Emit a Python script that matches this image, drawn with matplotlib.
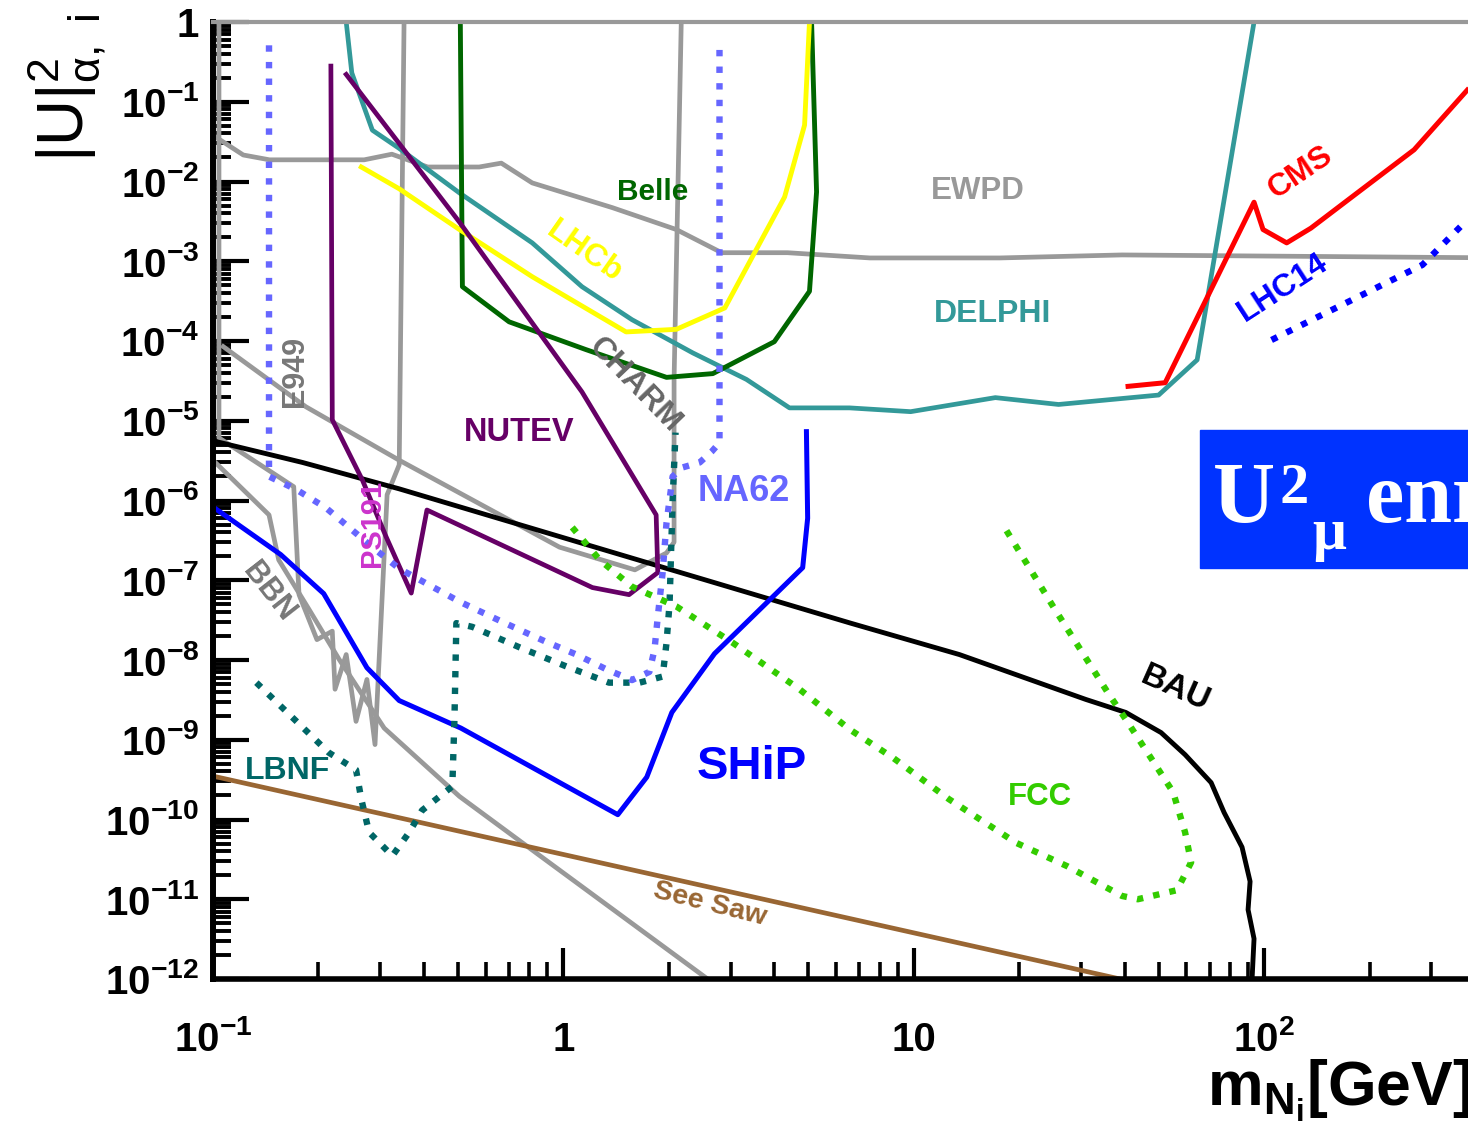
import matplotlib
matplotlib.use('Agg')
import matplotlib.pyplot as plt
from matplotlib.patches import Rectangle
from matplotlib.ticker import LogLocator, NullFormatter

plt.rcParams['font.family'] = ['Liberation Sans', 'DejaVu Sans']
plt.rcParams['font.weight'] = 'bold'
plt.rcParams['mathtext.fontset'] = 'custom'
plt.rcParams['mathtext.rm'] = 'Liberation Sans:bold'
plt.rcParams['mathtext.it'] = 'Liberation Sans:bold'
plt.rcParams['mathtext.bf'] = 'Liberation Sans:bold'
plt.rcParams['mathtext.sf'] = 'Liberation Sans:normal'
plt.rcParams['mathtext.default'] = 'rm'

# --- data ---
ewpd_x = [0.1, 0.122, 0.145, 0.27, 0.324, 0.41, 0.575, 0.665, 0.815, 1.38, 2.1, 2.83, 4.36, 7.5, 17.6, 39.3, 500]
ewpd_y = [0.038, 0.0215, 0.0187, 0.0187, 0.022, 0.0152, 0.0152, 0.017, 9.6e-3, 4.7e-3, 2.5e-3, 1.28e-3, 1.28e-3, 1.1e-3, 1.1e-3, 1.2e-3, 1.1e-3]

charm_x = [0.107, 0.184, 0.34, 0.975, 1.6, 1.97, 2.07, 2.07, 2.17]
charm_y = [8.5e-5, 1.5e-5, 3.2e-6, 2.6e-7, 1.35e-7, 2.2e-7, 3.0e-7, 3.3e-5, 1.0]

bbn_up_x = [0.104, 0.104, 0.17, 0.176, 0.198, 0.219, 0.223, 0.24, 0.256, 0.275, 0.29, 0.314, 0.34, 0.351]
bbn_up_y = [1.0, 6.1e-6, 1.49e-6, 6.6e-8, 1.8e-8, 2.3e-8, 4.3e-9, 1.17e-8, 1.7e-9, 5.7e-9, 8.7e-10, 1.18e-6, 2.8e-6, 1.0]

bbn_low_x = [0.1, 0.1445, 0.154, 0.188, 0.229, 0.308, 0.505, 0.764, 2.58]
bbn_low_y = [3.2e-6, 6.6e-7, 1.8e-7, 4.3e-8, 1.02e-8, 1.4e-9, 1.95e-10, 5.1e-11, 1e-12]

seesaw_x = [0.1, 38.8]
seesaw_y = [3.5e-10, 1e-12]

bau_x = [0.1, 0.18, 0.34, 6.6, 13.5, 31, 40.3, 50.8, 59.5, 70.6, 76.9, 86.5, 91.2, 90, 93.6, 92.4]
bau_y = [5.6e-6, 3.0e-6, 1.4e-6, 2.9e-8, 1.17e-8, 3.2e-9, 2.2e-9, 1.23e-9, 6.5e-10, 2.9e-10, 1.22e-10,
         4.5e-11, 1.67e-11, 7.4e-12, 3.2e-12, 1e-12]

ship_x = [0.1, 0.156, 0.207, 0.275, 0.34, 0.51, 1.43, 1.73, 2.04, 2.70, 4.82, 4.98, 4.94]
ship_y = [8.3e-7, 2.1e-7, 6.8e-8, 8.0e-9, 3.1e-9, 1.4e-9, 1.15e-10, 3.4e-10, 2.2e-9, 1.2e-8, 1.44e-7, 6.0e-7, 7.3e-6]

lbnf_x = [0.133, 0.214, 0.256, 0.265, 0.279, 0.325, 0.363, 0.395, 0.482, 0.489, 0.495, 0.55, 0.75,
          1.02, 1.35, 1.65, 1.92, 1.97, 2.01, 2.05, 2.09]
lbnf_y = [5.2e-9, 6.9e-10, 4.2e-10, 1.8e-10, 6.9e-11, 3.5e-11, 6.9e-11, 1.3e-10, 2.6e-10, 1.95e-9, 2.9e-8,
          2.6e-8, 1.44e-8, 8.3e-9, 5.2e-9, 5.2e-9, 6.2e-9, 1.65e-8, 5.2e-8, 1.0e-6, 7.1e-6]

na62_x = [0.1445, 0.1445, 0.173, 0.21, 0.285, 0.34, 0.505, 0.67, 0.89, 1.09, 1.33, 1.57, 1.76, 1.82,
          1.86, 1.92, 1.97, 2.05, 2.19, 2.45, 2.65, 2.79, 2.79]
na62_y = [0.51, 2.0e-6, 1.37e-6, 8.1e-7, 2.6e-7, 1.4e-7, 5.4e-8, 3.0e-8, 1.7e-8, 1.17e-8, 7.6e-9, 5.6e-9,
          7.1e-9, 1.35e-8, 3.5e-8, 1.25e-7, 5.3e-7, 2.0e-6, 2.6e-6, 3.0e-6, 4.1e-6, 5.3e-6, 0.51]

nutev_x = [0.217, 0.219, 0.267, 0.312, 0.368, 0.408, 1.21, 1.54, 1.86, 1.84, 1.13, 0.84, 0.505, 0.24]
nutev_y = [0.28, 1.03e-5, 1.8e-6, 3.5e-7, 6.9e-8, 7.6e-7, 8.1e-8, 6.6e-8, 1.25e-7, 6.6e-7, 2.3e-5, 1.4e-4, 3.1e-3, 0.22]

delphi_x = [0.24, 0.249, 0.285, 0.34, 0.505, 0.815, 1.13, 1.57, 2.34, 3.33, 4.42, 6.56, 9.8, 17.1, 25.9, 50, 64.4, 93.6]
delphi_y = [1.0, 0.23, 0.044, 0.026, 7.2e-3, 1.7e-3, 4.8e-4, 1.85e-4, 7.1e-5, 3.3e-5, 1.45e-5, 1.45e-5,
            1.3e-5, 1.95e-5, 1.6e-5, 2.1e-5, 5.8e-5, 1.0]

belle_x = [0.508, 0.515, 0.70, 1.16, 1.97, 2.67, 4.0, 5.04, 5.28, 5.11]
belle_y = [1.0, 4.8e-4, 1.74e-4, 7.8e-5, 3.5e-5, 3.9e-5, 9.8e-5, 4.2e-4, 7.4e-3, 1.0]

lhcb_x = [0.265, 0.34, 0.505, 0.815, 1.51, 2.1, 2.89, 4.28, 4.88, 5.04]
lhcb_y = [0.0152, 8.1e-3, 2.5e-3, 6.4e-4, 1.3e-4, 1.4e-4, 2.6e-4, 6.4e-3, 0.051, 1.0]

fcc_x = [1.06, 1.27, 1.57, 2.1, 3.04, 4.72, 6.56, 8.7, 12.6, 19.6, 27.4, 39.3, 43.6, 56.4, 61.9, 59.5,
         55, 47.2, 40.3, 35.8, 25.3, 17.8]
fcc_y = [4.6e-7, 1.8e-7, 8.3e-8, 4.7e-8, 1.65e-8, 4.3e-9, 1.35e-9, 6.0e-10, 1.8e-10, 5.1e-11, 2.6e-11,
         1.1e-11, 1.0e-11, 1.3e-11, 2.9e-11, 6.9e-11, 2.2e-10, 6.2e-10, 1.8e-9, 3.9e-9, 4.3e-8, 5.3e-7]

cms_x = [40.9, 52.2, 93.6, 99.3, 116, 136, 186, 268, 380]
cms_y = [2.7e-5, 3.0e-5, 5.5e-3, 2.5e-3, 1.7e-3, 2.6e-3, 7.4e-3, 0.025, 0.14]

lhc14_x = [105, 283, 380]
lhc14_y = [1.03e-4, 9.0e-4, 3.3e-3]

x_ticks = [0.1, 1, 10, 100]
x_tick_labels = [r'$10^{-1}$', '1', '10', r'$10^{2}$']
y_ticks = [1, 1e-1, 1e-2, 1e-3, 1e-4, 1e-5, 1e-6, 1e-7, 1e-8, 1e-9, 1e-10, 1e-11, 1e-12]
y_tick_labels = ['1'] + [r'$10^{-%d}$' % k for k in range(1, 13)]

# (text, x, y, colour, size, rotation)
labels = [
    ('E949', 0.171, 4.1e-5, '#777777', 22, 90),
    ('BBN', 0.1445, 7.2e-8, '#777777', 22, -52),
    ('PS191', 0.285, 5.1e-7, '#cc33cc', 21, 90),
    ('NUTEV', 0.75, 7.1e-6, '#660066', 23.5, 0),
    ('CHARM', 1.6, 2.8e-5, '#666666', 23, -46),
    ('LHCb', 1.15, 1.3e-3, '#ffff00', 23, -35),
    ('Belle', 1.8, 7.4e-3, '#006600', 21.5, 0),
    ('EWPD', 15.2, 7.6e-3, '#999999', 22.5, 0),
    ('DELPHI', 16.8, 2.2e-4, '#339999', 23, 0),
    ('CMS', 127, 0.013, '#ff0000', 23, 34),
    ('LHC14', 113, 4.7e-4, '#0000ff', 23, 33),
    ('NA62', 3.27, 1.3e-6, '#6666ff', 26, 0),
    ('SHiP', 3.44, 4.6e-10, '#0000ff', 34, 0),
    ('FCC', 22.9, 1.9e-10, '#33cc00', 22.5, 0),
    ('BAU', 55.7, 4.3e-9, '#000000', 24, -24),
    ('LBNF', 0.163, 4.0e-10, '#006666', 23, 0),
    ('See Saw', 2.61, 8.6e-12, '#996633', 20.5, -14),
]

W, H = 1468, 1138
fig = plt.figure(figsize=(W / 100, H / 100), dpi=100)
ax = fig.add_axes([213 / W, (H - 979) / H, (1509 - 213) / W, (979 - 22) / H])
ax.set_xscale('log')
ax.set_yscale('log')
ax.set_xlim(0.1, 500)
ax.set_ylim(1e-12, 1)

dot = (0, (1, 1.6))
gray = '#999999'

ax.plot(ewpd_x, ewpd_y, color=gray, lw=3.4)
ax.plot(charm_x, charm_y, color=gray, lw=3.4)
ax.plot(bbn_up_x, bbn_up_y, color=gray, lw=3.4)
ax.plot(bbn_low_x, bbn_low_y, color=gray, lw=3.4)
ax.plot(seesaw_x, seesaw_y, color='#996633', lw=3.4)
ax.plot(bau_x, bau_y, color='black', lw=3.5)
ax.plot(delphi_x, delphi_y, color='#339999', lw=3.4)
ax.plot(belle_x, belle_y, color='#006600', lw=3.5)
ax.plot(lhcb_x, lhcb_y, color='#ffff00', lw=3.5)
ax.plot(nutev_x, nutev_y, color='#660066', lw=3.4)
ax.plot(ship_x, ship_y, color='#0000ff', lw=3.6)
ax.plot(cms_x, cms_y, color='#ff0000', lw=3.6)
ax.plot(lbnf_x, lbnf_y, color='#006666', lw=4.6, ls=dot, dash_capstyle='butt')
ax.plot(fcc_x, fcc_y, color='#33cc00', lw=4.6, ls=dot, dash_capstyle='butt')
ax.plot(na62_x, na62_y, color='#6666ff', lw=4.6, ls=dot, dash_capstyle='butt')
ax.plot(lhc14_x, lhc14_y, color='#0000ff', lw=4.6, ls=dot, dash_capstyle='butt')

for txt, x, y, c, s, r in labels:
    ax.text(x, y, txt, color=c, fontsize=s, rotation=r, ha='center', va='center',
            fontweight='bold', rotation_mode='anchor')

# axes styling
ax.spines['left'].set_linewidth(4.3)
ax.spines['bottom'].set_linewidth(4.0)
ax.spines['top'].set_color(gray)
ax.spines['top'].set_linewidth(3.0)
ax.spines['right'].set_visible(False)

ax.set_xticks(x_ticks, x_tick_labels)
ax.set_yticks(y_ticks, y_tick_labels)
ax.xaxis.set_minor_locator(LogLocator(base=10, subs=range(2, 10), numticks=50))
ax.yaxis.set_minor_locator(LogLocator(base=10, subs=range(2, 10), numticks=50))
ax.xaxis.set_minor_formatter(NullFormatter())
ax.yaxis.set_minor_formatter(NullFormatter())
ax.tick_params(axis='both', which='both', direction='in', top=False, right=False)
ax.tick_params(axis='x', which='major', length=22, width=3, pad=52, labelsize=29)
ax.tick_params(axis='x', which='minor', length=12, width=2.6)
ax.tick_params(axis='y', which='major', length=26, width=3, pad=10, labelsize=29)
ax.tick_params(axis='y', which='minor', length=13, width=2.8)
for lab in ax.get_xticklabels():
    lab.set_va('baseline')

# axis titles
fig.text(1207 / W, 1 - 1105 / H, r'$m_{N_i}$[GeV]', fontsize=45, fontweight='bold',
         ha='left', va='baseline')
fig.text(66 / W, 1 - 88 / H, r'$\mathsf{|U|^2_{\alpha,\ i}}$', fontsize=46, fontweight='normal',
         rotation=90, ha='center', va='center')

# blue banner (cut at the right edge)
fig.add_artist(Rectangle((1200 / W, 1 - 568 / H), 400 / W, 138 / H, transform=fig.transFigure,
                         color='#0033ff', zorder=5))
serif = ['Liberation Serif', 'DejaVu Serif']
fig.text(1213 / W, 1 - 522 / H, 'U', fontsize=62, family=serif, color='white', fontweight='bold',
         ha='left', va='baseline', zorder=6)
fig.text(1279 / W, 1 - 503 / H, '2', fontsize=42, family=serif, color='white', fontweight='bold',
         ha='left', va='baseline', zorder=6)
fig.text(1312 / W, 1 - 549 / H, 'μ', fontsize=43, family=serif, color='white', fontweight='bold',
         ha='left', va='baseline', zorder=6)
fig.text(1366 / W, 1 - 522 / H, 'enriched', fontsize=62, family=serif, color='white',
         fontweight='bold', ha='left', va='baseline', zorder=6)

fig.savefig('out.png', dpi=100)
